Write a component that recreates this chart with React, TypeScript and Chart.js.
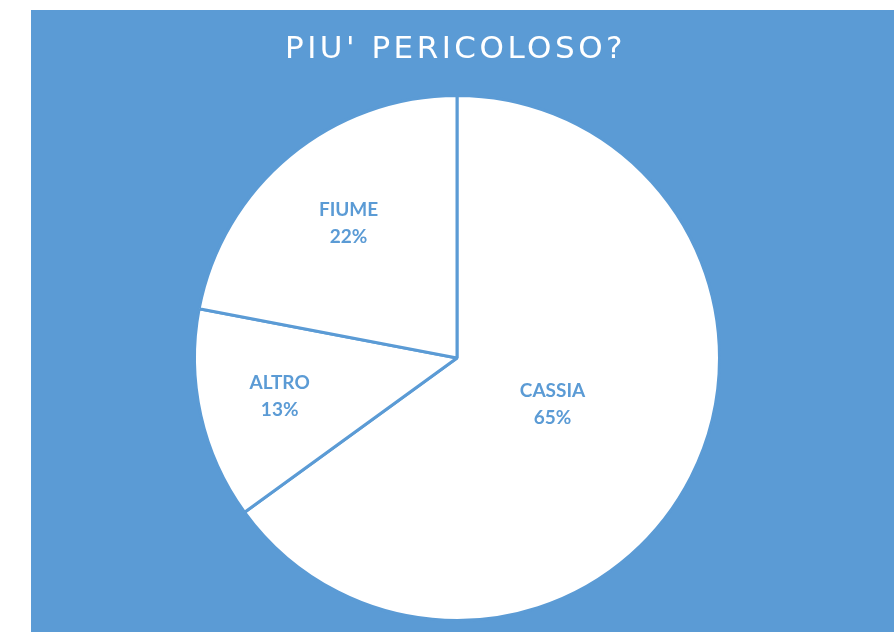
import React, { useEffect, useRef } from "react";
import { Chart, registerables } from "chart.js";

Chart.register(...registerables);

const categories = ["CASSIA", "ALTRO", "FIUME"];
const values = [65, 13, 22];
const labelRadiusFraction = [0.4, 0.7, 0.66];
const titleText = "PIU' PERICOLOSO?";

const BLUE = "#5B9BD5";

const labelPlugin = {
  id: "sliceLabels",
  afterDatasetsDraw(chart: any) {
    const ctx = chart.ctx;
    const meta = chart.getDatasetMeta(0);
    const total = values.reduce((a, b) => a + b, 0);
    ctx.save();
    ctx.fillStyle = BLUE;
    ctx.font = "bold 19px Lato";
    ctx.textAlign = "center";
    ctx.textBaseline = "middle";
    meta.data.forEach((arc: any, i: number) => {
      const p = arc.getProps(["x", "y", "startAngle", "endAngle", "outerRadius"], true);
      const mid = (p.startAngle + p.endAngle) / 2;
      const r = p.outerRadius * labelRadiusFraction[i];
      const cx = p.x + Math.cos(mid) * r;
      const cy = p.y + Math.sin(mid) * r;
      const pct = Math.round((values[i] / total) * 100) + "%";
      ctx.fillText(categories[i], cx + 2, cy - 15);
      ctx.fillText(pct, cx + 2, cy + 12);
    });
    ctx.restore();
  },
};

const titlePlugin = {
  id: "customTitle",
  afterDraw(chart: any) {
    const ctx = chart.ctx;
    ctx.save();
    ctx.fillStyle = "#FFFFFF";
    ctx.font = "31px 'DejaVu Sans'";
    (ctx as any).letterSpacing = "3.5px";
    ctx.textAlign = "center";
    ctx.textBaseline = "middle";
    ctx.fillText(titleText, chart.width / 2 - 7, 40);
    ctx.restore();
  },
};

export default function App() {
  const ref = useRef<HTMLCanvasElement | null>(null);
  useEffect(() => {
    if (!ref.current) return;
    const chart = new Chart(ref.current, {
      type: "pie",
      data: {
        labels: categories,
        datasets: [
          {
            data: values,
            backgroundColor: "#FFFFFF",
            borderColor: BLUE,
            borderWidth: 3,
            hoverOffset: 0,
          },
        ],
      },
      options: {
        responsive: false,
        animation: false,
        devicePixelRatio: 1,
        layout: { padding: { left: 162, right: 173, top: 84, bottom: 10 } },
        plugins: {
          legend: { display: false },
          tooltip: { enabled: false },
          title: { display: false },
        },
      },
      plugins: [labelPlugin, titlePlugin],
    });
    return () => chart.destroy();
  }, []);
  return (
    <div style={{ position: "fixed", left: 0, top: 0, width: 894, height: 632, background: "#FFFFFF" }}>
      <div style={{ position: "absolute", left: 31, top: 10, width: 863, height: 622, background: BLUE }}>
        <canvas ref={ref} width={863} height={622} style={{ width: 863, height: 622, display: "block" }} />
      </div>
    </div>
  );
}
